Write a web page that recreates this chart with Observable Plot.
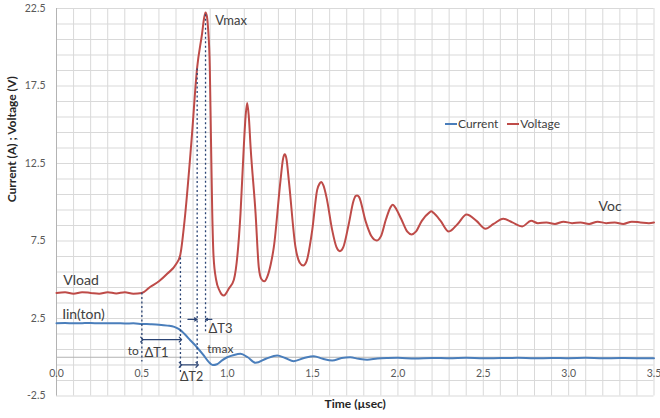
<!DOCTYPE html>
<html><head><meta charset="utf-8">
<script src="https://cdn.jsdelivr.net/npm/d3@7"></script>
<script src="https://cdn.jsdelivr.net/npm/@observablehq/plot@0.6"></script>
<style>
body{margin:0;background:#fff;}
#wrap{position:relative;width:660px;height:418px;font-family:Lato,"Open Sans",sans-serif;}
.leg{position:absolute;top:116px;font-size:12px;color:#404040;display:flex;align-items:center;white-space:nowrap;}
.sw{display:inline-block;width:12px;height:2px;margin-right:1px;}
</style></head><body><div id="wrap"></div>
<script>
// ---- data ----
const timeV = [0,0.05,0.1,0.15,0.2,0.25,0.3,0.35,0.4,0.45,0.5,0.55,0.6,0.65,0.7,0.725,0.75,0.791,0.824,0.853,0.865,0.873,0.881,0.888,0.898,0.905,0.912,0.92,0.935,0.955,0.968,0.98,0.992,1.008,1.039,1.078,1.097,1.108,1.117,1.126,1.137,1.166,1.185,1.2,1.218,1.235,1.255,1.273,1.312,1.327,1.337,1.347,1.361,1.4,1.425,1.445,1.465,1.498,1.527,1.541,1.552,1.563,1.582,1.615,1.64,1.66,1.68,1.712,1.74,1.752,1.761,1.772,1.81,1.845,1.875,1.9,1.93,1.958,1.97,1.982,2.02,2.055,2.08,2.105,2.14,2.185,2.195,2.21,2.25,2.298,2.35,2.402,2.46,2.513,2.56,2.617,2.67,2.728,2.78,2.82,2.87,2.92,2.97,3.02,3.07,3.12,3.17,3.22,3.27,3.32,3.37,3.42,3.47,3.5];
const voltage = [4.15,4.2,4.1,4.2,4.15,4.1,4.2,4.12,4.2,4.1,4.15,4.55,4.9,5.4,6.0,6.6,8.8,14.0,18.7,20.9,21.9,22.25,22.0,21.2,18.7,14.0,9.5,6.5,5.0,4.3,4.05,3.98,4.1,4.4,5.0,9.3,13.55,15.6,16.4,15.6,13.55,9.3,5.8,5.05,4.9,5.2,6.0,7.1,11.4,12.8,13.1,12.8,11.4,7.1,6.1,5.92,6.2,8.2,10.8,11.2,11.3,11.1,10.3,8.2,7.1,6.84,7.1,8.6,10.1,10.4,10.44,10.35,8.8,7.8,7.53,7.8,8.9,9.7,9.84,9.7,8.9,8.1,7.92,8.1,8.8,9.35,9.42,9.3,8.8,8.11,8.6,9.21,8.8,8.29,8.6,8.93,8.7,8.44,8.8,8.65,8.7,8.6,8.75,8.65,8.7,8.6,8.75,8.65,8.7,8.6,8.75,8.7,8.65,8.7];
const timeI = [0,0.05,0.1,0.15,0.2,0.25,0.3,0.35,0.4,0.45,0.5,0.55,0.6,0.65,0.69,0.72,0.75,0.785,0.82,0.86,0.89,0.915,0.94,0.97,1.0,1.04,1.078,1.12,1.166,1.23,1.293,1.34,1.39,1.45,1.507,1.56,1.615,1.67,1.72,1.77,1.82,1.88,1.94,2.0,2.1,2.2,2.3,2.4,2.5,2.6,2.7,2.8,2.9,3.0,3.1,3.2,3.3,3.4,3.5];
const current = [2.2,2.21,2.19,2.2,2.21,2.19,2.2,2.2,2.18,2.19,2.15,2.13,2.1,2.04,1.96,1.8,1.5,1.08,0.68,0.15,-0.28,-0.5,-0.45,-0.2,0.0,0.15,0.22,0.0,-0.36,-0.08,0.11,-0.05,-0.25,-0.05,0.07,-0.1,-0.21,-0.05,0.0,-0.1,-0.16,-0.08,-0.05,-0.04,-0.08,-0.05,-0.06,-0.03,-0.07,-0.05,-0.04,-0.07,-0.05,-0.06,-0.04,-0.07,-0.05,-0.06,-0.07];
const xTicks = [0,0.5,1.0,1.5,2.0,2.5,3.0,3.5];
const yTicks = [-2.5,2.5,7.5,12.5,17.5,22.5];
const xGrid = d3.range(0, 36).map(i => i / 10);
const yGrid = d3.range(0, 26).map(i => i - 2.5);
// annotation guides (time positions of dashed lines and arrows)
const guideX = [0.5, 0.726, 0.824, 0.873];
const guideTop = [4.15, 6.4, 18.6, 22.1];
const guideBottom = [-0.3, -1.1, -0.6, 1.6];
const arrowsBoth = [{x1:0.5,x2:0.726,y:1.14},{x1:0.726,x2:0.824,y:-0.49}];
const arrowsIn = [{x1:0.77,x2:0.824,y:2.44},{x1:0.91,x2:0.873,y:2.44}];
const labelsStart = [
  {t:"Vmax", x:0.93, y:21.7, s:13},
  {t:"Vload", x:0.04, y:4.95, s:14},
  {t:"Iin(ton)", x:0.033, y:2.75, s:14},
  {t:"Voc", x:3.175, y:9.75, s:14},
  {t:"ΔT1", x:0.515, y:0.3, s:13},
  {t:"ΔT2", x:0.724, y:-1.3, s:12.5},
  {t:"ΔT3", x:0.89, y:1.85, s:13},
  {t:"tmax", x:0.883, y:0.5, s:12}
];
const labelsEnd = [{t:"to", x:0.482, y:0.37, s:12}];

const vData = timeV.map((t,i)=>({t, v: voltage[i]}));
const iData = timeI.map((t,i)=>({t, v: current[i]}));
const guides = guideX.map((x,i)=>({x, y1: guideTop[i], y2: guideBottom[i]}));

const blue = "#4a7ebb", red = "#be4b48", navy = "#2b4474", grid = "#d9d9d9", tick = "#595959";

const chart = Plot.plot({
  width: 660, height: 418,
  marginLeft: 56, marginRight: 6.5, marginTop: 8, marginBottom: 22.5,
  style: {fontFamily: "Lato, 'Open Sans', sans-serif", background: "#fff"},
  x: {domain: [0, 3.5], axis: null},
  y: {domain: [-2.5, 22.5], axis: null},
  marks: [
    Plot.ruleX(xGrid, {stroke: grid, strokeWidth: 1}),
    Plot.ruleY(yGrid, {stroke: grid, strokeWidth: 1}),
    Plot.ruleY([0], {stroke: "#b3b3b3", strokeWidth: 1}),
    Plot.ruleX([0], {stroke: "#b3b3b3", strokeWidth: 1}),
    Plot.text(xTicks, {x: d => d, y: 0, dy: 16, text: d => d.toFixed(1), fill: tick, fontSize: 10.5, textAnchor: "middle"}),
    Plot.text(yTicks, {x: 0, y: d => d, dx: -11, text: d => d.toFixed(1), fill: tick, fontSize: 10.5, textAnchor: "end"}),
    Plot.text(["Current (A) ; Voltage (V)"], {frameAnchor: "left", dx: -44, rotate: -90, text: d => d, fontWeight: "bold", fontSize: 12, fill: "#262626"}),
    Plot.text(["Time (µsec)"], {frameAnchor: "bottom", dy: 12, text: d => d, fontWeight: "bold", fontSize: 12, fill: "#262626"}),
    Plot.line(iData, {x: "t", y: "v", stroke: blue, strokeWidth: 2, curve: "monotone-x"}),
    Plot.line(vData, {x: "t", y: "v", stroke: red, strokeWidth: 2, curve: "monotone-x"}),
    Plot.ruleX(guides, {x: "x", y1: "y1", y2: "y2", stroke: navy, strokeWidth: 1.3, strokeDasharray: "2,2.5"}),
    Plot.link(arrowsBoth, {x1: "x1", x2: "x2", y1: "y", y2: "y", stroke: navy, strokeWidth: 1.2, markerStart: "arrow", markerEnd: "arrow"}),
    Plot.arrow(arrowsIn, {x1: "x1", x2: "x2", y1: "y", y2: "y", stroke: navy, strokeWidth: 1.2, headLength: 6}),
    Plot.text(labelsStart, {x: "x", y: "y", text: "t", fontSize: d => d.s, textAnchor: "start", fill: "#404040"}),
    Plot.text(labelsEnd, {x: "x", y: "y", text: "t", fontSize: d => d.s, textAnchor: "end", fill: "#404040"}),
  ]
});
const wrap = document.getElementById("wrap");
wrap.appendChild(chart);
const legend = document.createElement("div");
legend.className = "leg";
legend.style.left = "445px";
legend.innerHTML = `<span class="sw" style="background:${blue}"></span><span>Current</span><span style="display:inline-block;width:9px"></span><span class="sw" style="background:${red}"></span><span>Voltage</span>`;
wrap.appendChild(legend);
</script>
</body></html>
